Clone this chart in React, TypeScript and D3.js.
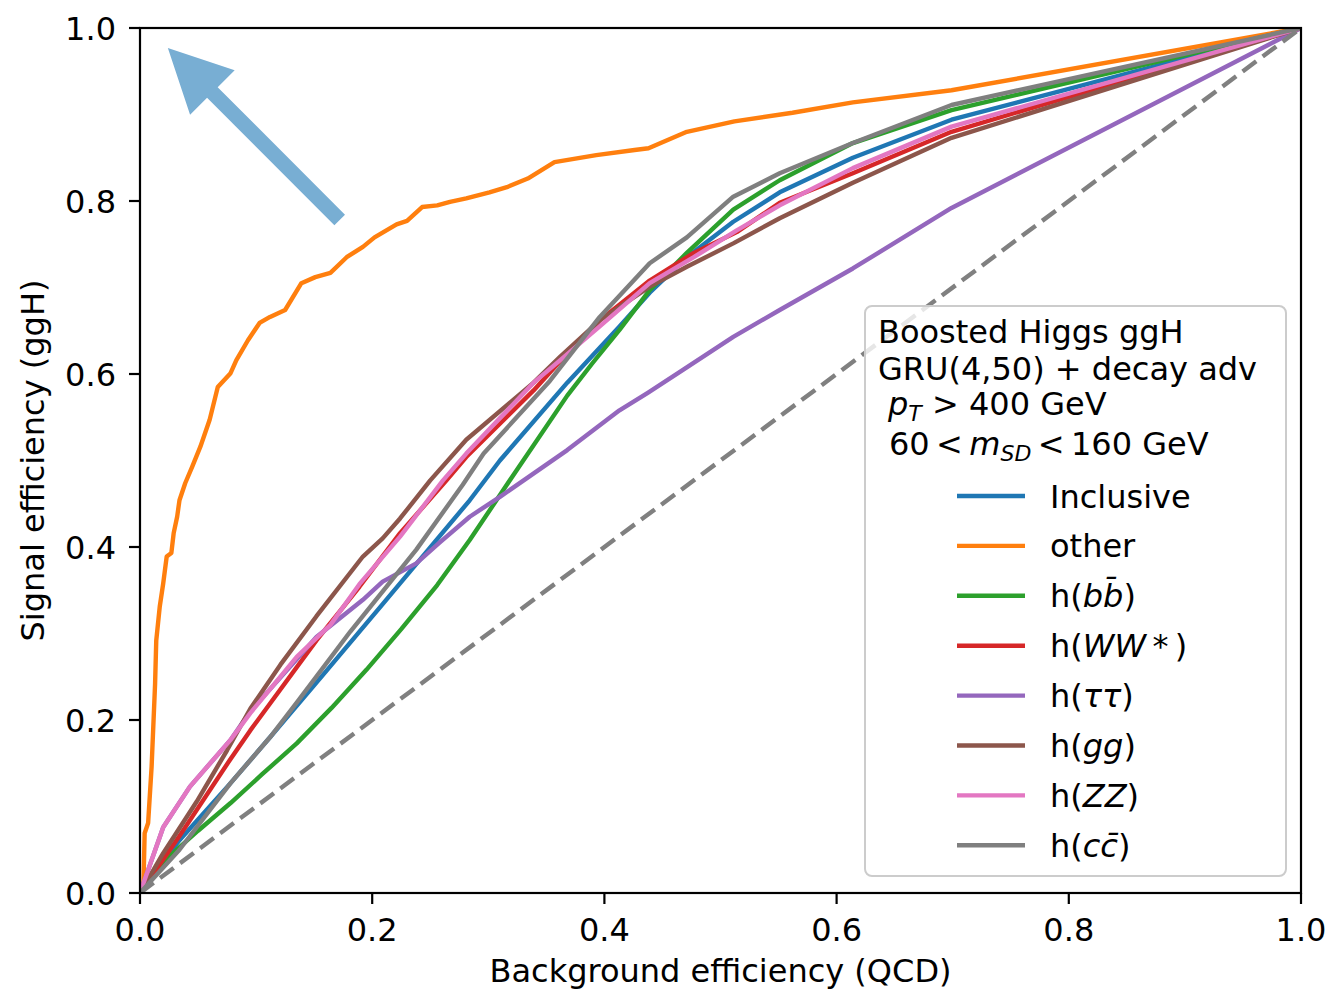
import React from 'react';
import * as d3 from 'd3';

// ---------- data ----------
const xTicks = [0, 0.2, 0.4, 0.6, 0.8, 1.0];
const yTicks = [0, 0.2, 0.4, 0.6, 0.8, 1.0];

const inclusiveX = [0, 0.034, 0.078, 0.112, 0.160, 0.209, 0.284, 0.31, 0.368, 0.413, 0.439, 0.471, 0.511, 0.551, 0.614, 0.699, 1];
const inclusiveY = [0, 0.061, 0.127, 0.180, 0.256, 0.334, 0.454, 0.500, 0.590, 0.655, 0.694, 0.735, 0.776, 0.810, 0.850, 0.894, 1];

const otherX = [0, 0.003, 0.004, 0.007, 0.010, 0.013, 0.014, 0.017, 0.020, 0.023, 0.027, 0.029, 0.032, 0.034, 0.039, 0.045, 0.052, 0.060, 0.067, 0.078, 0.083, 0.093, 0.103, 0.112, 0.125, 0.139, 0.151, 0.164, 0.178, 0.192, 0.202, 0.221, 0.230, 0.243, 0.256, 0.267, 0.281, 0.301, 0.316, 0.334, 0.357, 0.393, 0.426, 0.438, 0.471, 0.512, 0.562, 0.614, 0.699, 1];
const otherY = [0, 0.011, 0.069, 0.081, 0.146, 0.242, 0.292, 0.331, 0.358, 0.389, 0.393, 0.416, 0.435, 0.454, 0.474, 0.493, 0.516, 0.547, 0.585, 0.601, 0.616, 0.639, 0.659, 0.666, 0.674, 0.705, 0.712, 0.717, 0.735, 0.747, 0.758, 0.773, 0.777, 0.793, 0.795, 0.799, 0.803, 0.810, 0.816, 0.826, 0.845, 0.853, 0.859, 0.861, 0.880, 0.892, 0.902, 0.914, 0.928, 1];

const bbX = [0, 0.02, 0.05, 0.078, 0.105, 0.135, 0.165, 0.195, 0.225, 0.256, 0.284, 0.325, 0.368, 0.39, 0.413, 0.439, 0.471, 0.511, 0.551, 0.614, 0.699, 1];
const bbY = [0, 0.036, 0.072, 0.104, 0.137, 0.173, 0.214, 0.258, 0.305, 0.356, 0.408, 0.490, 0.575, 0.613, 0.651, 0.697, 0.740, 0.790, 0.824, 0.867, 0.905, 1];

const wwX = [0, 0.034, 0.078, 0.095, 0.152, 0.189, 0.224, 0.264, 0.281, 0.339, 0.362, 0.396, 0.439, 0.477, 0.514, 0.551, 0.614, 0.699, 1];
const wwY = [0, 0.066, 0.155, 0.188, 0.292, 0.354, 0.416, 0.477, 0.504, 0.581, 0.615, 0.662, 0.708, 0.740, 0.764, 0.798, 0.832, 0.880, 1];

const tautauX = [0, 0.02, 0.043, 0.078, 0.095, 0.152, 0.192, 0.209, 0.238, 0.258, 0.284, 0.31, 0.368, 0.413, 0.437, 0.468, 0.511, 0.551, 0.614, 0.699, 1];
const tautauY = [0, 0.076, 0.123, 0.177, 0.210, 0.296, 0.339, 0.360, 0.381, 0.405, 0.435, 0.458, 0.512, 0.558, 0.578, 0.605, 0.643, 0.674, 0.722, 0.792, 1];

const ggX = [0, 0.02, 0.049, 0.075, 0.095, 0.121, 0.152, 0.192, 0.209, 0.224, 0.25, 0.281, 0.339, 0.362, 0.396, 0.439, 0.471, 0.511, 0.551, 0.614, 0.699, 1];
const ggY = [0, 0.046, 0.106, 0.165, 0.213, 0.264, 0.320, 0.389, 0.410, 0.433, 0.477, 0.524, 0.590, 0.620, 0.662, 0.701, 0.724, 0.751, 0.780, 0.821, 0.873, 1];

const zzX = [0, 0.02, 0.043, 0.078, 0.095, 0.135, 0.164, 0.189, 0.224, 0.261, 0.281, 0.339, 0.362, 0.396, 0.439, 0.477, 0.514, 0.551, 0.614, 0.699, 1];
const zzY = [0, 0.076, 0.123, 0.177, 0.208, 0.273, 0.310, 0.357, 0.412, 0.477, 0.508, 0.590, 0.616, 0.655, 0.705, 0.735, 0.766, 0.795, 0.838, 0.886, 1];

const ccX = [0, 0.034, 0.078, 0.112, 0.135, 0.181, 0.238, 0.278, 0.296, 0.353, 0.396, 0.439, 0.471, 0.511, 0.551, 0.614, 0.699, 1];
const ccY = [0, 0.050, 0.127, 0.180, 0.220, 0.302, 0.397, 0.472, 0.508, 0.592, 0.666, 0.728, 0.758, 0.805, 0.832, 0.867, 0.911, 1];

const diagX = [0, 1];
const diagY = [0, 1];

const arrowTail = [0.172, 0.778];
const arrowTip = [0.024, 0.977];

const seriesKeys = ['Inclusive', 'other', 'bb', 'WW', 'tautau', 'gg', 'ZZ', 'cc'];
const seriesXs = [inclusiveX, otherX, bbX, wwX, tautauX, ggX, zzX, ccX];
const seriesYs = [inclusiveY, otherY, bbY, wwY, tautauY, ggY, zzY, ccY];

// styles
const colors = ['#1f77b4', '#ff7f0e', '#2ca02c', '#d62728', '#9467bd', '#8c564b', '#e377c2', '#7f7f7f'];

const W = 1332;
const H = 992;
const L = 140, R = 1301, T = 28, B = 893;
const FONT = '"DejaVu Sans", sans-serif';
const FS = 32;

function LegendLabel({ k }: { k: string }) {
  const it = { fontStyle: 'italic' as const };
  switch (k) {
    case 'Inclusive': return <>Inclusive</>;
    case 'other': return <>other</>;
    case 'bb': return <>h(<tspan style={it}>b</tspan><tspan style={it}>b{'\u0304'}</tspan>)</>;
    case 'WW': return <>h(<tspan style={it}>WW</tspan>{'\u2009*\u2009)'}</>;
    case 'tautau': return <>h(<tspan style={it}>ττ</tspan>)</>;
    case 'gg': return <>h(<tspan style={it}>gg</tspan>)</>;
    case 'ZZ': return <>h(<tspan style={it}>ZZ</tspan>)</>;
    case 'cc': return <>h(<tspan style={it}>c</tspan><tspan style={it}>c{'\u0304'}</tspan>)</>;
  }
  return <>{k}</>;
}

export default function App() {
  const x = d3.scaleLinear().domain([0, 1]).range([L, R]);
  const y = d3.scaleLinear().domain([0, 1]).range([B, T]);
  const line = d3.line<[number, number]>().x(d => x(d[0])).y(d => y(d[1]));

  const toPts = (xs: number[], ys: number[]) => xs.map((v, i) => [v, ys[i]] as [number, number]);

  // arrow polygon in pixel space
  const tx = x(arrowTail[0]), ty = y(arrowTail[1]);
  const px = x(arrowTip[0]), py = y(arrowTip[1]);
  const dx = px - tx, dy = py - ty;
  const len = Math.hypot(dx, dy);
  const ux = dx / len, uy = dy / len;
  const nx = -uy, ny = ux;
  const sw = 7.5, hw = 31.5, hl = 63;
  const bx = px - ux * hl, by = py - uy * hl;
  const arrowPts = [
    [tx + nx * sw, ty + ny * sw],
    [bx + nx * sw, by + ny * sw],
    [bx + nx * hw, by + ny * hw],
    [px, py],
    [bx - nx * hw, by - ny * hw],
    [bx - nx * sw, by - ny * sw],
    [tx - nx * sw, ty - ny * sw],
  ].map(p => p.join(',')).join(' ');

  const legX = 865, legY = 306, legW = 421, legH = 570;
  const titleX = 878;
  const rowStart = 496, rowStep = 49.9;

  return (
    <svg width={W} height={H} style={{ position: 'absolute', left: 0, top: 0, background: '#fff' }}
      fontFamily={FONT} fontSize={FS}>
      <rect x={0} y={0} width={W} height={H} fill="#fff" />
      <defs>
        <clipPath id="plotclip"><rect x={L} y={T} width={R - L} height={B - T} /></clipPath>
      </defs>
      <g clipPath="url(#plotclip)">
        {seriesKeys.map((k, i) => (
          <path key={k} d={line(toPts(seriesXs[i], seriesYs[i])) || ''} fill="none"
            stroke={colors[i]} strokeWidth={4.4} strokeLinejoin="round" strokeLinecap="square" />
        ))}
        <path d={line(toPts(diagX, diagY)) || ''} fill="none" stroke="#808080" strokeWidth={4.4}
          strokeDasharray="17,8" />
        <polygon points={arrowPts} fill="rgb(120,174,211)" />
      </g>

      {/* frame */}
      <rect x={L} y={T} width={R - L} height={B - T} fill="none" stroke="#000" strokeWidth={2.2} />

      {/* x ticks */}
      {xTicks.map(t => (
        <g key={'x' + t}>
          <line x1={x(t)} x2={x(t)} y1={B} y2={B + 11} stroke="#000" strokeWidth={2.2} />
          <text x={x(t)} y={941} textAnchor="middle">{t.toFixed(1)}</text>
        </g>
      ))}
      {/* y ticks */}
      {yTicks.map(t => (
        <g key={'y' + t}>
          <line x1={L - 11} x2={L} y1={y(t)} y2={y(t)} stroke="#000" strokeWidth={2.2} />
          <text x={116} y={y(t) + 11.6} textAnchor="end">{t.toFixed(1)}</text>
        </g>
      ))}

      <text x={(L + R) / 2} y={982} textAnchor="middle">Background efficiency (QCD)</text>
      <text transform={`translate(44,${(T + B) / 2}) rotate(-90)`} textAnchor="middle">Signal efficiency (ggH)</text>

      {/* legend */}
      <g>
        <rect x={legX} y={legY} width={legW} height={legH} rx={7} ry={7}
          fill="#fff" fillOpacity={0.8} stroke="#cccccc" strokeWidth={2} />
        <text x={titleX} y={343}>Boosted Higgs ggH</text>
        <text x={titleX} y={380}>GRU(4,50) + decay adv</text>
        <text x={titleX + 10} y={415}>
          <tspan fontStyle="italic">p</tspan>
          <tspan fontStyle="italic" fontSize={22} dy={6}>T</tspan>
          <tspan dy={-6}>{' > 400 GeV'}</tspan>
        </text>
        <text x={titleX + 11} y={455}>
          <tspan>{'60\u2009<\u2009'}</tspan>
          <tspan fontStyle="italic">m</tspan>
          <tspan fontStyle="italic" fontSize={22} dy={6}>SD</tspan>
          <tspan dy={-6}>{'\u2009<\u2009160 GeV'}</tspan>
        </text>
        {seriesKeys.map((k, i) => {
          const cy = rowStart + i * rowStep;
          return (
            <g key={'leg' + k}>
              <line x1={957} x2={1025} y1={cy} y2={cy} stroke={colors[i]} strokeWidth={4.4} />
              <text x={1050} y={cy + 11.5}><LegendLabel k={k} /></text>
            </g>
          );
        })}
      </g>
    </svg>
  );
}
